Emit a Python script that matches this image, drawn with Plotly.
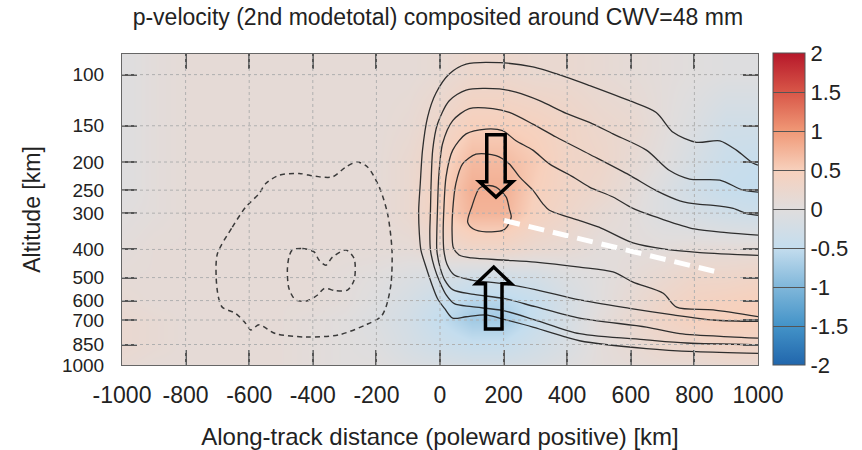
import plotly.graph_objects as go

# ---------------- data ----------------
x_km = [-1000, -900, -800, -700, -600, -500, -400, -300, -200, -100, 0,
        100, 200, 300, 400, 500, 600, 700, 800, 900, 1000]
p_levels = [85, 100, 150, 200, 250, 300, 400, 500, 600, 700, 850, 1000]

omega = [
    [-0.05, 0.05, 0.1, 0.1, 0.1, 0.1, 0.1, 0.1, 0.1, 0.1, 0.15, 0.25, 0.25, 0.2, 0.2, 0.15, 0.1, 0.05, 0.0, -0.05, -0.05],
    [-0.05, 0.05, 0.1, 0.1, 0.1, 0.1, 0.1, 0.1, 0.1, 0.1, 0.15, 0.25, 0.25, 0.2, 0.2, 0.15, 0.1, 0.05, 0.0, -0.05, -0.05],
    [-0.05, 0.05, 0.1, 0.1, 0.1, 0.1, 0.1, 0.1, 0.1, 0.15, 0.3, 0.5, 0.5, 0.45, 0.35, 0.25, 0.2, 0.05, -0.1, -0.3, -0.3],
    [-0.05, 0.05, 0.1, 0.1, 0.1, 0.1, 0.1, 0.1, 0.1, 0.2, 0.4, 0.7, 0.7, 0.55, 0.35, 0.3, 0.15, 0.0, -0.2, -0.4, -0.45],
    [-0.05, 0.05, 0.1, 0.1, 0.1, 0.1, 0.1, 0.1, 0.1, 0.2, 0.45, 0.8, 0.8, 0.5, 0.35, 0.25, 0.1, -0.1, -0.3, -0.45, -0.5],
    [0.0, 0.05, 0.1, 0.1, 0.1, 0.1, 0.1, 0.1, 0.1, 0.2, 0.45, 0.75, 0.75, 0.45, 0.3, 0.15, 0.05, -0.1, -0.2, -0.3, -0.35],
    [0.05, 0.1, 0.1, 0.1, 0.1, 0.1, 0.1, 0.1, 0.1, 0.1, 0.2, 0.3, 0.3, 0.2, 0.15, 0.05, 0.05, 0.05, 0.1, 0.1, 0.1],
    [0.1, 0.1, 0.1, 0.1, 0.1, 0.1, 0.1, 0.05, 0.0, -0.1, -0.2, -0.3, -0.3, -0.25, -0.1, 0.0, 0.1, 0.2, 0.3, 0.3, 0.35],
    [0.15, 0.1, 0.1, 0.1, 0.1, 0.1, 0.1, 0.05, -0.05, -0.2, -0.4, -0.6, -0.6, -0.45, -0.2, 0.0, 0.15, 0.3, 0.4, 0.45, 0.5],
    [0.2, 0.15, 0.1, 0.1, 0.1, 0.1, 0.05, 0.0, -0.1, -0.25, -0.5, -0.75, -0.75, -0.45, -0.2, 0.05, 0.2, 0.35, 0.45, 0.5, 0.5],
    [0.2, 0.15, 0.1, 0.1, 0.1, 0.1, 0.05, 0.0, -0.05, -0.2, -0.35, -0.45, -0.45, -0.3, -0.15, 0.05, 0.15, 0.25, 0.3, 0.35, 0.35],
    [0.15, 0.1, 0.1, 0.1, 0.1, 0.1, 0.05, 0.0, 0.0, -0.1, -0.15, -0.2, -0.2, -0.15, -0.05, 0.05, 0.1, 0.15, 0.15, 0.2, 0.2],
]

# solid contours (positive), outermost first: (km, hPa)
c1_km = [1000, 985, 932, 880, 806, 733, 680, 596, 470, 397, 292, 187, 82, 29, -13, -39, -55, -62, -67, -65, -60, -44, -25, -8, 15, 40, 82, 145, 187, 292, 397, 439, 649, 806, 1000]
c1_hpa = [205, 202, 182, 169, 171, 158, 135, 123, 109, 102, 94, 91, 92, 99.5, 116, 140, 182, 237, 293, 352, 402, 460, 530, 590, 640, 690, 682, 672, 690, 740, 802, 825, 878, 900, 912]

c2_km = [1000, 953, 880, 785, 722, 649, 544, 470, 397, 313, 239, 187, 82, 29, -8, -23, -28, -30, -32, -30, -18, 0, 20, 45, 100, 200, 300, 439, 649, 775, 1000]
c2_hpa = [254, 250, 231, 229, 214, 182, 160, 146, 136, 123, 115, 112, 113, 123, 148, 182, 237, 293, 350, 402, 460, 520, 575, 615, 630, 650, 700, 780, 819, 840, 852]

c3_km = [1000, 964, 922, 859, 817, 754, 680, 596, 470, 365, 292, 218, 166, 92, 40, 8, -4, -8, -10, -10, 0, 15, 40, 100, 200, 300, 439, 649, 754, 911, 1000]
c3_hpa = [305, 301, 289, 282, 280, 272, 251, 222, 188, 164, 148, 135, 131, 131, 144, 173, 225, 293, 350, 402, 460, 510, 550, 570, 590, 630, 690, 740, 780, 800, 808]

c4_km = [1000, 900, 800, 700, 607, 544, 470, 418, 344, 292, 239, 197, 145, 82, 40, 19, 12, 10, 12, 22, 45, 100, 200, 300, 439, 596, 733, 859, 1000]
c4_hpa = [357, 350, 340, 315, 289, 264, 244, 225, 203, 182, 169, 156, 154, 160, 182, 225, 293, 350, 402, 450, 490, 510, 525, 550, 597, 638, 672, 700, 708]

c5_km = [1000, 817, 712, 607, 500, 439, 344, 323, 292, 250, 218, 176, 113, 71, 50, 40, 38, 42, 60, 100, 200, 300, 439, 544, 607, 702, 744, 859, 1000]
c5_hpa = [419, 410, 400, 380, 335, 318, 293, 278, 250, 225, 203, 190, 188, 203, 237, 293, 350, 395, 418, 428, 435, 442, 460, 478, 518, 566, 632, 646, 682]

c6_km = [87, 100, 124, 150, 176, 208, 218, 224, 210, 197, 145, 105, 87]
c6_hpa = [322, 285, 246, 241, 244, 264, 290, 309, 335, 344, 348, 340, 322]

# dashed contours (negative)
n1_km = [-700, -653, -611, -569, -548, -506, -443, -391, -338, -296, -260, -228, -191, -165, -151, -154, -170, -186, -233, -317, -422, -517, -569, -595, -611, -643, -685, -697, -704, -700]
n1_hpa = [414, 335, 286, 257, 237, 222, 219, 224, 225, 208, 200, 208, 244, 301, 402, 525, 632, 682, 727, 787, 801, 780, 727, 757, 719, 664, 632, 583, 496, 414]

n2_km = [-465, -433, -396, -380, -359, -338, -296, -270, -270, -291, -328, -364, -385, -417, -454, -475, -480, -475, -465]
n2_hpa = [402, 397, 408, 436, 453, 425, 402, 430, 510, 552, 555, 545, 574, 601, 597, 545, 471, 425, 402]

x_ticks = [-1000, -800, -600, -400, -200, 0, 200, 400, 600, 800, 1000]
x_ticktext = ["-1000", "-800", "-600", "-400", "-200", "0", "200", "400", "600", "800", "1000"]
y_ticks = [100, 150, 200, 250, 300, 400, 500, 600, 700, 850, 1000]
y_ticktext = [str(v) for v in y_ticks]
cb_ticks = [2, 1.5, 1, 0.5, 0, -0.5, -1, -1.5, -2]
cb_ticktext = ["2", "1.5", "1", "0.5", "0", "-0.5", "-1", "-1.5", "-2"]

# annotation arrows: (center km, shaft half-width km, head half-width km, tail hPa, head-base hPa, tip hPa)
arrow_down = (176, 29, 52, 161, 234, 264)
arrow_up = (169, 26, 55, 752, 525, 460)
tilt_line = ((202, 318), (874, 479))

# ---------------- figure ----------------
FONT = "Liberation Sans, Arial, sans-serif"
TXT = "#222"
colorscale = [
    [0.0, "rgb(33,102,172)"],
    [0.125, "rgb(67,147,200)"],
    [0.25, "rgb(128,183,218)"],
    [0.375, "rgb(196,221,238)"],
    [0.5, "rgb(224,221,221)"],
    [0.625, "rgb(247,208,188)"],
    [0.75, "rgb(240,152,118)"],
    [0.875, "rgb(216,86,72)"],
    [1.0, "rgb(182,24,42)"],
]

fig = go.Figure()
fig.add_trace(go.Heatmap(
    x=x_km, y=p_levels, z=omega, zmin=-2, zmax=2, zsmooth="best",
    colorscale=colorscale, showscale=True,
    colorbar=dict(
        x=1.0236, xanchor="left", xpad=0, y=1.003, yanchor="top", ypad=0, len=1.003,
        thickness=32, thicknessmode="pixels", outlinewidth=1, outlinecolor="#555",
        tickvals=cb_ticks, ticktext=cb_ticktext, ticks="inside", ticklen=32,
        tickcolor="#555", tickwidth=1,
        tickfont=dict(family=FONT, size=22, color=TXT),
    ),
    hoverinfo="skip",
))

solid_style = dict(color="#2e2e2e", width=1.3, shape="spline", smoothing=0.8)
for xs, ys in [(c1_km, c1_hpa), (c2_km, c2_hpa), (c3_km, c3_hpa),
               (c4_km, c4_hpa), (c5_km, c5_hpa), (c6_km, c6_hpa)]:
    fig.add_trace(go.Scatter(x=xs, y=ys, mode="lines", line=solid_style,
                             showlegend=False, hoverinfo="skip"))
dash_style = dict(color="#3a3a3a", width=1.5, dash="5px,4px", shape="spline", smoothing=0.8)
for xs, ys in [(n1_km, n1_hpa), (n2_km, n2_hpa)]:
    fig.add_trace(go.Scatter(x=xs, y=ys, mode="lines", line=dash_style,
                             showlegend=False, hoverinfo="skip"))

shapes = []
for v in x_ticks[1:-1]:
    shapes.append(dict(type="line", xref="x", yref="paper", x0=v, x1=v, y0=0, y1=1,
                       line=dict(color="#b0b0b0", width=1, dash="dot"), layer="above"))
for v in y_ticks[:-1]:
    shapes.append(dict(type="line", xref="paper", yref="y", x0=0, x1=1, y0=v, y1=v,
                       line=dict(color="#b0b0b0", width=1, dash="dot"), layer="above"))


def arrow_path(a):
    xc, sw, hw, tail, base, tip = a
    pts = [(xc - sw, tail), (xc + sw, tail), (xc + sw, base), (xc + hw, base),
           (xc, tip), (xc - hw, base), (xc - sw, base)]
    return "M " + " L ".join(f"{px},{py}" for px, py in pts) + " Z"


for a in (arrow_down, arrow_up):
    shapes.append(dict(type="path", xref="x", yref="y", path=arrow_path(a),
                       line=dict(color="black", width=3.5), fillcolor="rgba(0,0,0,0)",
                       layer="above"))
(tx0, ty0), (tx1, ty1) = tilt_line
shapes.append(dict(type="line", xref="x", yref="y", x0=tx0, y0=ty0, x1=tx1, y1=ty1,
                   line=dict(color="white", width=5, dash="16px,9px"), layer="above"))

axis_common = dict(
    showline=True, linecolor="#666", linewidth=1, mirror="ticks",
    ticks="inside", ticklen=15, tickcolor="#555", tickwidth=1.5,
    showgrid=False, zeroline=False, layer="above traces", automargin=False,
)
fig.update_layout(
    width=862, height=450,
    margin=dict(l=122, r=104, t=54, b=85, autoexpand=False),
    paper_bgcolor="white", plot_bgcolor="white",
    showlegend=False,
    title=dict(text="p-velocity (2nd modetotal) composited around CWV=48 mm",
               x=0.508, xanchor="center", y=0.962, yanchor="middle",
               font=dict(family=FONT, size=23, color=TXT)),
    xaxis=dict(range=[-1000, 1000], tickvals=x_ticks, ticktext=x_ticktext,
               ticklabelstandoff=9, tickfont=dict(family=FONT, size=23, color=TXT),
               title=dict(text="Along-track distance (poleward positive) [km]",
                          font=dict(family=FONT, size=24, color=TXT), standoff=23),
               **axis_common),
    yaxis=dict(type="log", range=[3, 1.929], tickvals=y_ticks, ticktext=y_ticktext,
               ticklabelstandoff=13, tickfont=dict(family=FONT, size=19, color=TXT),
               title=dict(text="Altitude [km]",
                          font=dict(family=FONT, size=23, color=TXT), standoff=14),
               **axis_common),
    shapes=shapes,
)

fig.write_html("out.html", config={"displayModeBar": False},
               post_script="document.body.style.margin='0';document.body.style.overflow='hidden';")
